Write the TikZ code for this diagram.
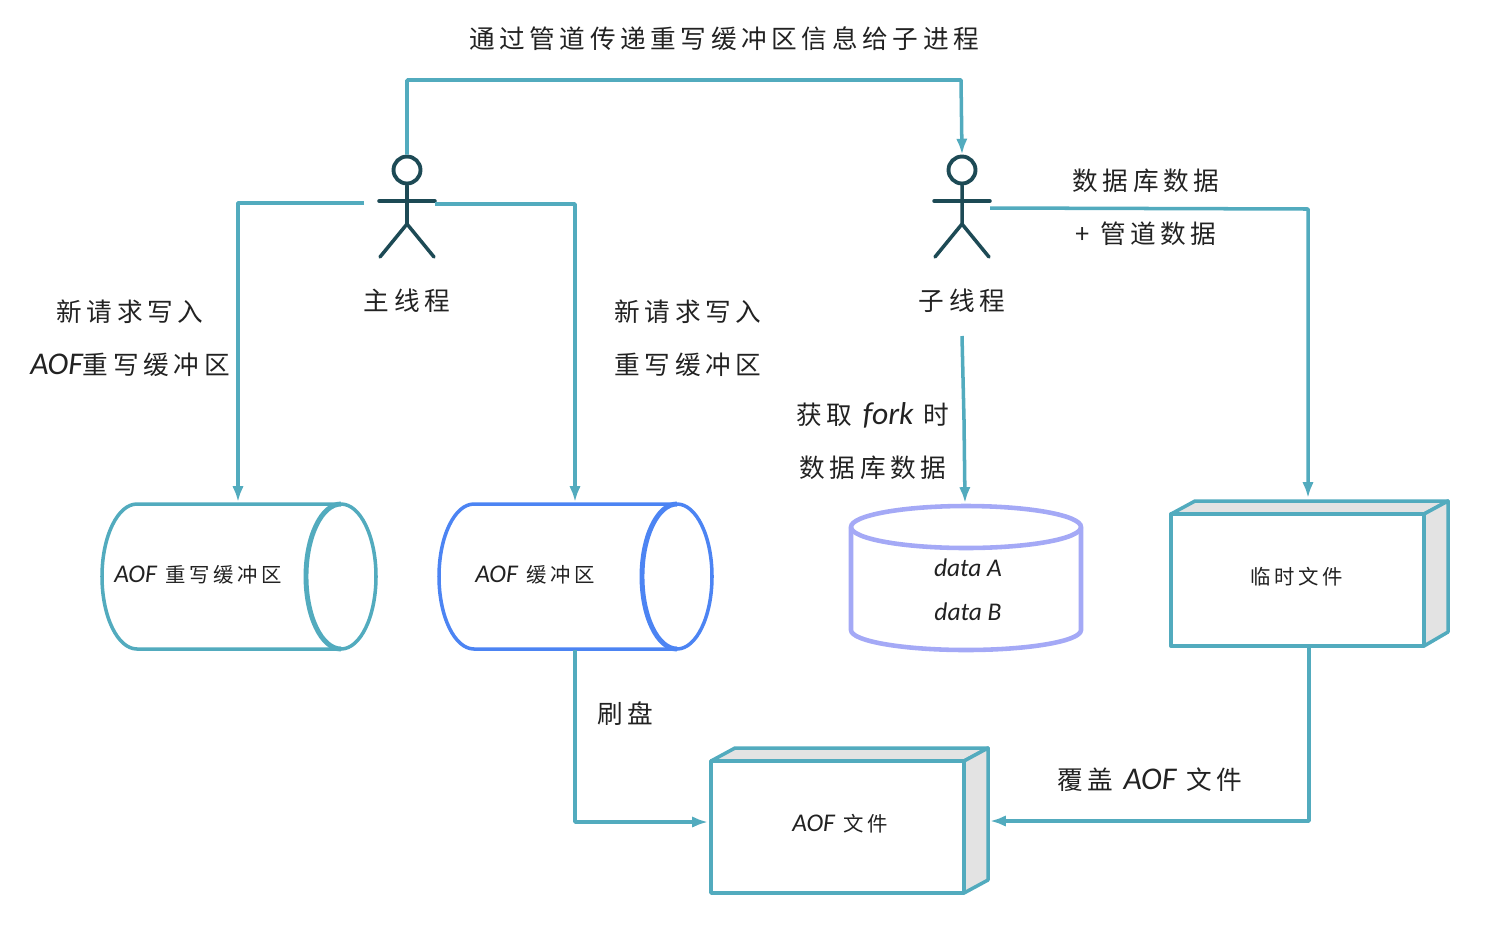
\documentclass[tikz,border=0pt]{standalone}
\usepackage{fontspec}
\setmainfont{Noto Sans CJK SC}[LetterSpace=18]
\newfontfamily\enfont{Carlito}
\usepackage{xcolor}
\usetikzlibrary{arrows.meta, positioning}
\definecolor{lineteal}{HTML}{52ABBE}
\definecolor{mandark}{HTML}{1D4A55}
\definecolor{cylblue}{HTML}{4C84F3}
\definecolor{cyllav}{HTML}{A4A9F6}
\definecolor{boxgrey}{HTML}{E3E3E3}
\definecolor{inkdark}{HTML}{222222}
\newcommand{\en}[1]{{\enfont\itshape\fontsize{18}{30}\selectfont #1}}
\newcommand{\ens}[1]{{\enfont\itshape\fontsize{14.5}{25}\selectfont #1}}
\tikzset{
    biglabel/.style={text=inkdark, align=center, inner sep=0pt, font=\fontsize{14.6}{30}\selectfont},
    smalllabel/.style={text=inkdark, align=center, inner sep=0pt, font=\fontsize{11.6}{25}\selectfont},
    conn/.style={draw=lineteal, line width=2pt, line join=round},
    connarrow/.style={conn, -{Latex[length=9pt, width=6.5pt]}},
    filebox/.style={draw=lineteal, fill=white, line width=2pt, minimum width=5.06cm, minimum height=2.64cm, inner sep=0pt, line join=round},
    sideface/.style={draw=lineteal, fill=boxgrey, line width=2pt, line join=round},
    horizcyl/.style={fill=white, line width=2pt},
}
% stick figure, #1 name, #2 x of the head
\newcommand{\stickman}[2]{
    \node[circle, draw=mandark, line width=2.2pt, minimum size=0.54cm, inner sep=0pt] (#1) at (#2,170) {};
    \draw[mandark, line width=2pt, line cap=round] (#1.south) -- (#2,224) -- (#2-27,257);
    \draw[mandark, line width=2pt, line cap=round] (#2,224) -- (#2+27,257);
    \draw[mandark, line width=2pt, line cap=round] (#2-28,201) -- (#2+28,201);
}
% cylinder lying down, #1 left x, #2 right-hand ellipse x, #3 colour
\newcommand{\liecyl}[3]{
    \draw[horizcyl, draw=#3] (#1+35,504) -- (#2,504) arc[start angle=-90, end angle=90, x radius=35, y radius=72.5]
        -- (#1+35,649) arc[start angle=90, end angle=270, x radius=35, y radius=72.5];
    \draw[#3, line width=2.8pt] (#2,504) arc[start angle=270, end angle=90, x radius=35, y radius=72.5];
}

\begin{document}
\begin{tikzpicture}[x=0.02cm, y=-0.02cm]
    \useasboundingbox (0,0) rectangle (1494,944);

    \stickman{mainman}{407}
    \stickman{childman}{962}

    \liecyl{102}{341}{lineteal}
    \liecyl{439}{677}{cylblue}

    % data cylinder
    \draw[cyllav, fill=white, line width=2.6pt] (851,527) -- (851,630) arc[start angle=180, end angle=0, x radius=115, y radius=20]
        -- (1081,527) arc[start angle=0, end angle=-180, x radius=115, y radius=21] -- cycle;
    \draw[cyllav, line width=2.6pt] (851,527) arc[start angle=180, end angle=0, x radius=115, y radius=21];

    % temp file box
    \draw[sideface] (1171,514) -- (1195,501) -- (1448,501) -- (1424,514) -- cycle;
    \draw[sideface] (1424,514) -- (1448,501) -- (1448,632) -- (1424,646) -- cycle;
    \node[filebox] (tmpfile) at (1297.5,580) {};

    % aof file box
    \draw[sideface] (711,761) -- (735,748) -- (988,748) -- (964,761) -- cycle;
    \draw[sideface] (964,761) -- (988,748) -- (988,880) -- (964,893) -- cycle;
    \node[filebox] (aoffile) at (837.5,827) {};

    % end points of the connectors
    \coordinate (mainleft) at (364,203);
    \coordinate (mainright) at (435,204);
    \coordinate (childright) at (990,208);
    \coordinate (childlow) at (962,336);
    \coordinate (rewritetop) at (238,502);
    \coordinate (aofbuftop) at (575,502);
    \coordinate (aofbuflow) at (575,650);
    \coordinate (datatop) at (965,503);
    \coordinate (tmptop) at (1308,498);
    \coordinate (tmplow) at (1309,647);
    \coordinate (aofleft) at (708,822);
    \coordinate (aofright) at (990,821);

    \draw[connarrow] (mainman.north) -- (407,80) -- (961,80) -- (childman.north);
    \draw[connarrow] (mainleft) -- (238,203) -- (rewritetop);
    \draw[connarrow] (mainright) -- (575,204) -- (aofbuftop);
    \draw[connarrow] (childlow) -- (964,420) -- (datatop);
    \draw[connarrow] (childright) -- (1308,209) -- (tmptop);
    \draw[connarrow] (aofbuflow) -- (575,822) -- (aofleft);
    \draw[connarrow] (tmplow) -- (1309,821) -- (aofright);

    \node[biglabel] (toplabel) at (724,39) {通过管道传递重写缓冲区信息给子进程};
    \node[biglabel] (mainlabel) at (407,301) {主线程};
    \node[biglabel] (childlabel) at (962,301) {子线程};
    \node[biglabel] (rewritelabel) at (130,338) {新请求写入\\\en{AOF}重写缓冲区};
    \node[biglabel] (aofbuflabel) at (688,338) {新请求写入\\重写缓冲区};
    \node[biglabel] (forklabel) at (873,441) {获取 \en{fork} 时\\数据库数据};
    \node[biglabel] (dblabel) at (1146,207) {数据库数据\\+ 管道数据};
    \node[smalllabel] (rewritename) at (198,575) {\ens{AOF} 重写缓冲区};
    \node[smalllabel] (aofbufname) at (535,575) {\ens{AOF} 缓冲区};
    \node[smalllabel] (dataname) at (968,590) {\ens{data A}\\\ens{data B}};
    \node[smalllabel] (tmpname) at (1297,577) {临时文件};
    \node[smalllabel] (aofname) at (840,824) {\ens{AOF} 文件};
    \node[biglabel] (flushlabel) at (625,714) {刷盘};
    \node[biglabel] (coverlabel) at (1150,780) {覆盖 \en{AOF} 文件};
\end{tikzpicture}
\end{document}
